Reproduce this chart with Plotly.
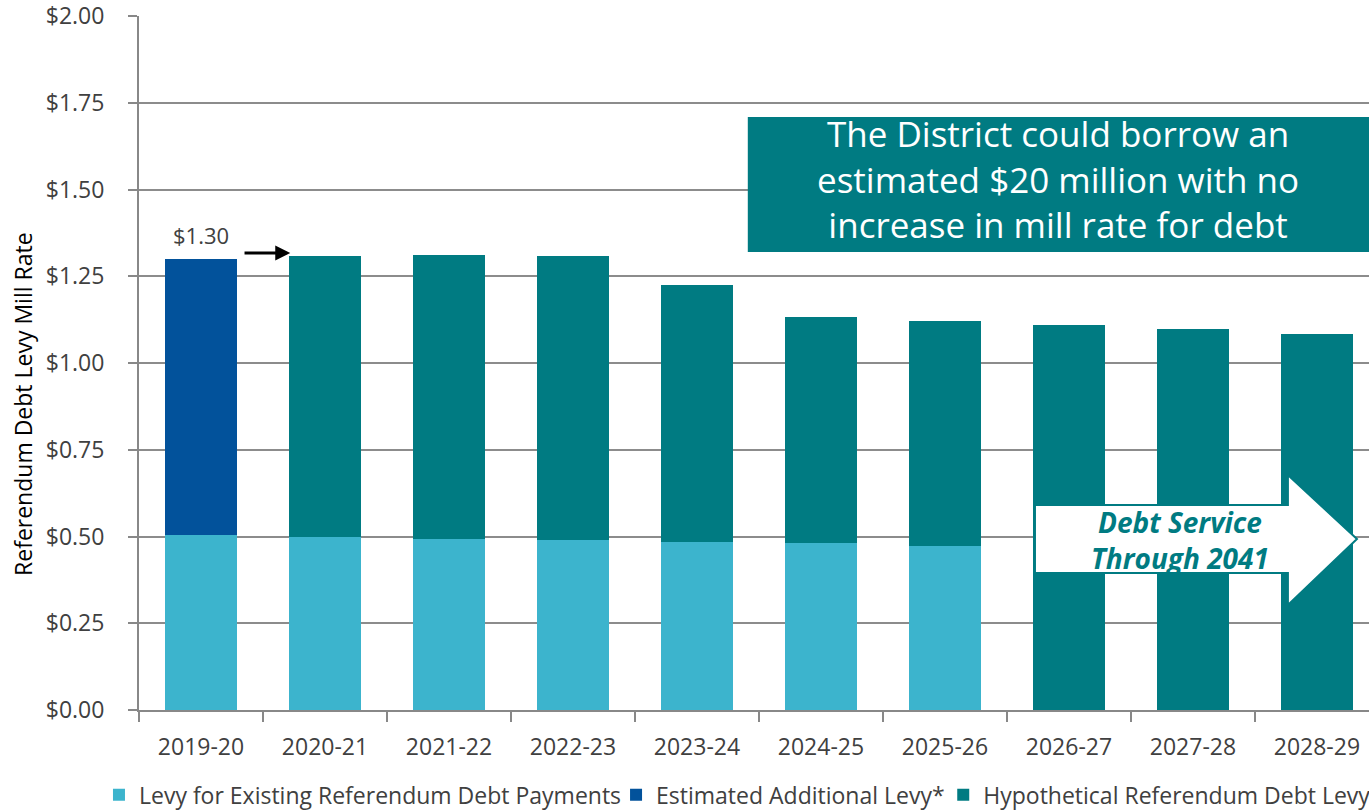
import plotly.graph_objects as go

years = ["2019-20", "2020-21", "2021-22", "2022-23", "2023-24",
         "2024-25", "2025-26", "2026-27", "2027-28", "2028-29"]
existing = [0.505, 0.498, 0.493, 0.490, 0.484, 0.481, 0.473, 0, 0, 0]
additional = [0.795, 0, 0, 0, 0, 0, 0, 0, 0, 0]
total_hyp = [0, 1.308, 1.311, 1.308, 1.225, 1.133, 1.121, 1.110, 1.098, 1.084]
hypothetical = [round(t - e, 3) if t > 0 else 0 for t, e in zip(total_hyp, existing)]
y_ticks = [0, 0.25, 0.5, 0.75, 1.0, 1.25, 1.5, 1.75, 2.0]
y_labels = ["$%.2f" % v for v in y_ticks]
series_names = ["Levy for Existing Referendum Debt Payments",
                "Estimated Additional Levy*",
                "Hypothetical Referendum Debt Levy"]
box_text = "The District could borrow an<br>estimated $20 million with no<br>increase in mill rate for debt"
arrow_text = "<b><i>Debt Service<br>Through 2041</i></b>"

C_LIGHT = "#3CB4CD"
C_DARK = "#02529B"
C_TEAL = "#007B82"
FONT = "Open Sans"
TXT = "#404040"
TICKFONT = dict(family=FONT, size=23, color=TXT)

fig = go.Figure()
fig.add_bar(x=years, y=existing, name=series_names[0], legend="legend",
            marker=dict(color=C_LIGHT, line=dict(width=0)), width=0.58)
fig.add_bar(x=years, y=additional, name=series_names[1], legend="legend2",
            marker=dict(color=C_DARK, line=dict(width=0)), width=0.58)
fig.add_bar(x=years, y=hypothetical, name=series_names[2], legend="legend3",
            marker=dict(color=C_TEAL, line=dict(width=0)), width=0.58)

# Info box
fig.add_shape(type="rect", xref="x", yref="y", x0=4.41, x1=9.5, y0=1.32, y1=1.709,
              fillcolor=C_TEAL, line=dict(width=0), layer="above")
fig.add_annotation(xref="x", yref="y", x=6.915, y=1.531, text=box_text,
                   showarrow=False, align="center",
                   font=dict(family=FONT, size=35, color="white"))

# Big white arrow
arrow_path = ("M 6.726 0.591 L 8.766 0.591 L 8.766 0.677 L 9.323 0.493 "
              "L 8.766 0.303 L 8.766 0.395 L 6.726 0.395 Z")
fig.add_shape(type="path", xref="x", yref="y", path=arrow_path,
              fillcolor="white", line=dict(color=C_TEAL, width=2), layer="above")
fig.add_annotation(xref="x", yref="y", x=7.895, y=0.49, text=arrow_text,
                   showarrow=False, align="center",
                   font=dict(family=FONT, size=28, color=C_TEAL))

# $1.30 label
fig.add_annotation(xref="x", yref="y", x=0, y=1.30, yshift=24,
                   text="$1.30", showarrow=False,
                   font=dict(family=FONT, size=22, color=TXT))
# small black arrow
fig.add_annotation(xref="x", yref="y", ax=0.339, ay=1.317, axref="x", ayref="y",
                   x=0.72, y=1.317, text="", showarrow=True,
                   arrowhead=2, arrowsize=1.0, arrowwidth=3, arrowcolor="black")

# y-axis title (as rotated annotation to match offset position)
fig.add_annotation(xref="paper", yref="paper", x=-0.0943, y=0.441,
                   xanchor="center", yanchor="middle",
                   text="Referendum Debt Levy Mill Rate", textangle=-90,
                   showarrow=False, font=dict(family=FONT, size=23, color="black"))

legend_common = dict(orientation="h", xref="container", yref="container",
                     xanchor="left", yanchor="middle", y=0.02,
                     font=dict(family=FONT, size=23, color=TXT),
                     itemwidth=30, bgcolor="rgba(0,0,0,0)")
fig.update_layout(
    width=1369, height=811,
    barmode="stack", showlegend=True,
    plot_bgcolor="white", paper_bgcolor="white",
    margin=dict(l=139, r=0, t=16, b=101),
    font=dict(family=FONT, size=20, color=TXT),
    legend=dict(x=0.0723, **legend_common),
    legend2=dict(x=0.450, **legend_common),
    legend3=dict(x=0.689, **legend_common),
)
fig.update_xaxes(type="category", range=[-0.5, 9.42], showgrid=False,
                 showline=True, linecolor="#888888", linewidth=2,
                 ticks="outside", tickson="boundaries", ticklen=10,
                 tickcolor="#888888", tickwidth=2, ticklabelstandoff=15,
                 tickfont=TICKFONT, automargin=False)
fig.update_yaxes(range=[0, 2.0], tickvals=y_ticks, ticktext=y_labels,
                 showgrid=True, gridcolor="#8C8C8C", gridwidth=2,
                 showline=True, linecolor="#888888", linewidth=2,
                 ticks="outside", ticklen=9, tickcolor="#888888", tickwidth=2,
                 ticklabelstandoff=19, ticklabeloverflow="allow",
                 tickfont=TICKFONT, zeroline=False, automargin=False)

fig.write_html("out.html", config={"displayModeBar": False},
               post_script="document.body.style.margin='0';")
